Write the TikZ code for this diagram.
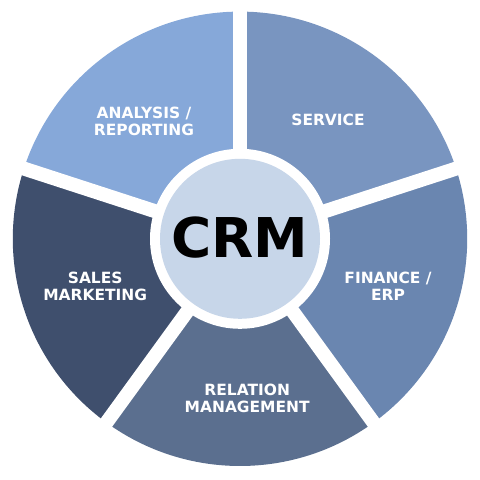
\documentclass[tikz,border=0pt]{standalone}
\usepackage{fontspec}
\setmainfont{DejaVu Sans}
\usepackage{tikz}

\definecolor{analysiscol}{HTML}{86A8D9}
\definecolor{servicecol}{HTML}{7995C0}
\definecolor{financecol}{HTML}{6A86B0}
\definecolor{relationcol}{HTML}{5B6F8F}
\definecolor{salescol}{HTML}{3F4F6D}
\definecolor{crmcol}{HTML}{C7D6E9}

\begin{document}
\begin{tikzpicture}
    \tikzstyle{part}=[text=white,font=\bfseries\fontsize{11}{12.2}\selectfont,align=center]
    \tikzstyle{gap}=[white,line width=0.35cm]
    \useasboundingbox (0,0) rectangle (12,12);
    \coordinate (c) at (6,6.03);
    % slices
    \fill[servicecol]  (c) -- ++(18:5.68)  arc (18:90:5.68)   -- cycle;
    \fill[analysiscol] (c) -- ++(90:5.68)  arc (90:162:5.68)  -- cycle;
    \fill[salescol]    (c) -- ++(162:5.68) arc (162:234:5.68) -- cycle;
    \fill[relationcol] (c) -- ++(234:5.68) arc (234:306:5.68) -- cycle;
    \fill[financecol]  (c) -- ++(306:5.68) arc (306:378:5.68) -- cycle;
    % white gaps and hub
    \foreach \a in {18,90,162,234,306}
      \draw[gap] (c) -- ++(\a:5.9);
    \fill[white] (c) circle (2.25);
    \fill[crmcol] (c) circle (2.0);
    \node (crm) at (6,6.05) {\bfseries\fontsize{39}{40}\selectfont CRM};
    \node[part] (analysis) at (3.6,8.97) {ANALYSIS /\\REPORTING};
    \node[part] (service) at (8.2,9.0) {SERVICE};
    \node[part] (finance) at (9.7,4.85) {FINANCE /\\ERP};
    \node[part] (sales) at (2.38,4.85) {SALES\\MARKETING};
    \node[part] (relation) at (6.18,2.05) {RELATION\\MANAGEMENT};
\end{tikzpicture}
\end{document}
